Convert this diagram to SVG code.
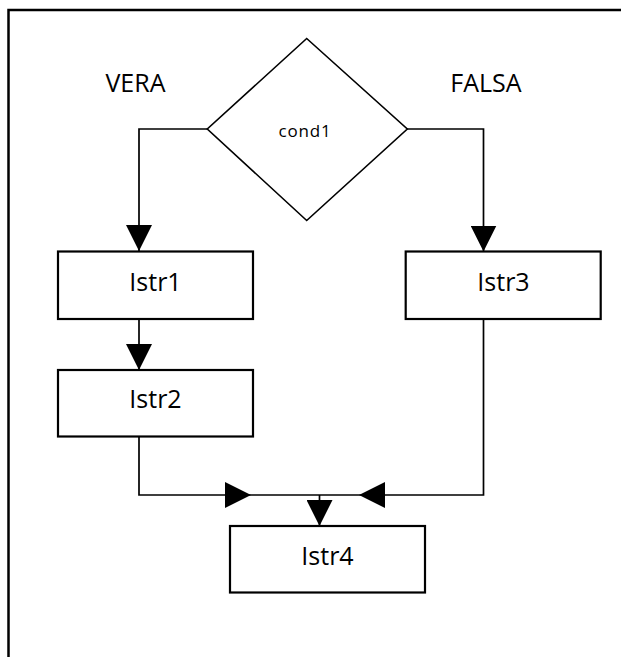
<svg xmlns="http://www.w3.org/2000/svg" width="621" height="657" viewBox="0 0 621 657">
<style>
.box{fill:#fff;stroke:#000;stroke-width:2.2}
.ln{fill:none;stroke:#000;stroke-width:1.7}
.t{font-family:"Open Sans","Liberation Sans",sans-serif;font-size:25px;fill:#000;text-anchor:middle}
.c{font-family:"Open Sans","Liberation Sans",sans-serif;font-size:17px;fill:#000;text-anchor:middle;letter-spacing:0.8px}
</style>
<defs>
<marker id="ah" viewBox="0 0 26 26" refX="26" refY="13" markerWidth="26" markerHeight="26" markerUnits="userSpaceOnUse" orient="auto">
<path d="M0,0 L26,13 L0,26 Z" fill="#000"/>
</marker>
</defs>
<rect x="8.5" y="10" width="630" height="680" fill="none" stroke="#000" stroke-width="2.5"/>
<text class="t" x="135.5" y="92">VERA</text>
<text class="t" x="486" y="92">FALSA</text>
<g id="connectors">
<path class="ln" d="M207,129 H139 V251" marker-end="url(#ah)"/>
<path class="ln" d="M407,129 H483.5 V251.5" marker-end="url(#ah)"/>
<path class="ln" d="M139,319 V370" marker-end="url(#ah)"/>
<path class="ln" d="M139,437 V495 H251" marker-end="url(#ah)"/>
<path class="ln" d="M483.5,319 V495 H359" marker-end="url(#ah)"/>
<path class="ln" d="M251,495 H359"/>
<path class="ln" d="M319.5,495 V526" marker-end="url(#ah)"/>
</g>
<g id="cond1">
<polygon class="box" style="stroke-width:1.6" points="306.7,38.5 407.3,129 306.7,220.5 207.3,129"/>
<text class="c" x="305" y="137">cond1</text>
</g>
<g id="istr1">
<rect class="box" x="58" y="251.5" width="195" height="67.5"/>
<text class="t" x="155.5" y="291">Istr1</text>
</g>
<g id="istr2">
<rect class="box" x="58" y="370" width="195" height="66.5"/>
<text class="t" x="155.5" y="408">Istr2</text>
</g>
<g id="istr3">
<rect class="box" x="405.7" y="251.5" width="195" height="67.5"/>
<text class="t" x="503.5" y="291">Istr3</text>
</g>
<g id="istr4">
<rect class="box" x="230" y="526" width="195" height="66.5"/>
<text class="t" x="327.5" y="565">Istr4</text>
</g>
</svg>
